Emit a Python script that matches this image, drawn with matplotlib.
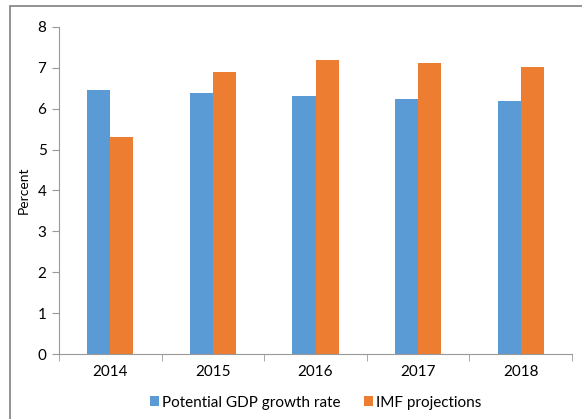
import matplotlib.pyplot as plt
import numpy as np
from matplotlib.patches import Rectangle

years = ["2014", "2015", "2016", "2017", "2018"]
potential = [6.45, 6.38, 6.30, 6.25, 6.18]
imf = [5.31, 6.90, 7.19, 7.11, 7.01]

plt.rcParams['font.family'] = ['Lato', 'DejaVu Sans']

fig = plt.figure(figsize=(5.82, 4.19), dpi=100)
ax = fig.add_axes([59/582, 1-354/419, (572-59)/582, (354-27)/419])

# outer chart frame (cut off at right and bottom, like the source)
fig.patches.append(Rectangle((10/582, -0.1), 1.2, 1 - 6/419 + 0.1, transform=fig.transFigure,
                             fill=False, edgecolor="#7f7f7f", linewidth=1.2))

x = np.arange(len(years))
w = 0.225
ax.bar(x - w/2, potential, w, color="#5B9BD5", label="Potential GDP growth rate")
ax.bar(x + w/2, imf, w, color="#ED7D31", label="IMF projections")

ax.set_xlim(-0.5, len(years) - 0.5)
ax.set_ylim(0, 8)
ax.set_yticks(range(0, 9))
ax.set_xticks(x)
ax.set_xticklabels(years)
ax.set_xticks(np.arange(-0.5, len(years)), minor=True)
ax.tick_params(axis="x", which="major", length=0, labelsize=11, pad=8)
ax.tick_params(axis="x", which="minor", length=5, color="#999999", direction="out")
ax.tick_params(axis="y", length=5, color="#999999", labelsize=11, pad=4)

for s in ["top", "right"]:
    ax.spines[s].set_visible(False)
ax.spines["left"].set_color("#999999")
ax.spines["bottom"].set_color("#999999")

ax.set_ylabel("Percent", fontsize=10, labelpad=6)

ax.legend(loc="upper center", bbox_to_anchor=(0.5, -0.085), ncol=2, frameon=False,
          fontsize=11, handlelength=0.6, handleheight=0.6, columnspacing=1.5,
          handletextpad=0.2)

fig.savefig("out.png", dpi=100)
